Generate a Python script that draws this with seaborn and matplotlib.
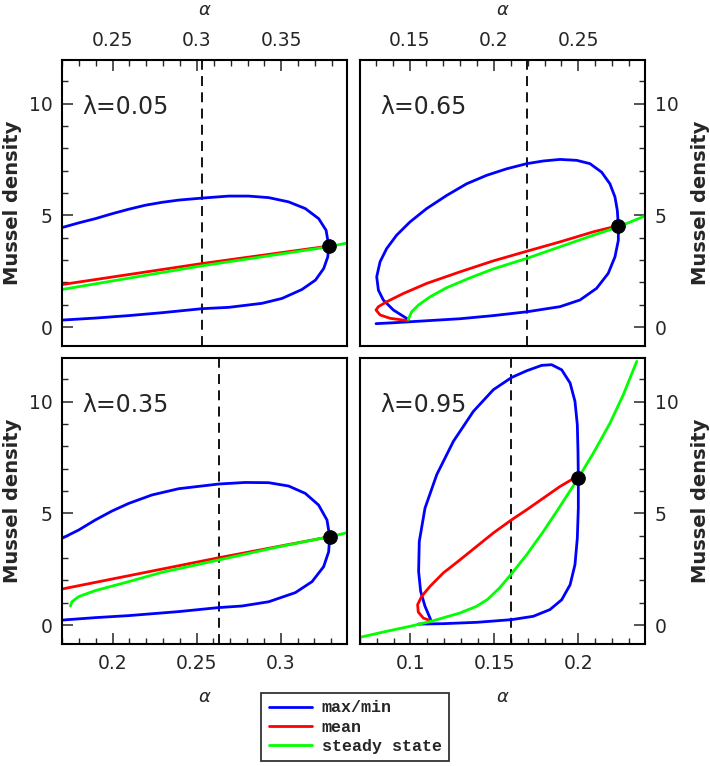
import matplotlib
matplotlib.use('Agg')
import numpy as np
import matplotlib.pyplot as plt
import seaborn as sns
from matplotlib.ticker import FixedLocator, FixedFormatter, MultipleLocator
from matplotlib.lines import Line2D

sns.set_style('ticks')
plt.rcParams['font.family'] = ['DejaVu Sans']

BLUE, RED, GREEN = '#0000ff', '#ff0000', '#00ff00'

# ---- panel lambda = 0.05 (top left) ----
a_lam = 'λ=0.05'
a_blue_x = [0.2200, 0.2299, 0.2398, 0.2497, 0.2595, 0.2694, 0.2793, 0.2892, 0.3030, 0.3189,
            0.3307, 0.3426, 0.3544, 0.3643, 0.3722, 0.3766, 0.3782, 0.3776, 0.3752, 0.3703,
            0.3623, 0.3505, 0.3386, 0.3189, 0.3030, 0.2793, 0.2595, 0.2398, 0.2200]
a_blue_y = [4.45, 4.66, 4.85, 5.07, 5.27, 5.45, 5.58, 5.68, 5.77, 5.86,
            5.86, 5.79, 5.60, 5.30, 4.85, 4.33, 3.62, 3.14, 2.62, 2.10,
            1.68, 1.28, 1.06, 0.88, 0.82, 0.64, 0.51, 0.40, 0.31]
a_red_x = [0.220, 0.3030, 0.3782]
a_red_y = [1.90, 2.84, 3.62]
a_green_x = [0.220, 0.3030, 0.3782, 0.389]
a_green_y = [1.68, 2.74, 3.59, 3.76]
a_dot = (0.3782, 3.62)
a_dash = 0.3030
a_xlim = (0.220, 0.389)
a_ticks = [0.25, 0.30, 0.35]
a_labels = ['0.25', '0.3', '0.35']

# ---- panel lambda = 0.65 (top right) ----
b_lam = 'λ=0.65'
b_blue1_x = [0.2737, 0.2731, 0.2717, 0.2687, 0.2638, 0.2569, 0.2490, 0.2391, 0.2292, 0.2194,
             0.2075, 0.1957, 0.1838, 0.1720, 0.1601, 0.1502, 0.1423, 0.1364, 0.1325, 0.1305,
             0.1315, 0.1344, 0.1404, 0.1492]
b_blue1_y = [4.52, 5.22, 5.82, 6.41, 6.93, 7.31, 7.46, 7.50, 7.43, 7.31,
             7.08, 6.79, 6.41, 5.89, 5.30, 4.70, 4.11, 3.51, 2.92, 2.25,
             1.65, 1.21, 0.76, 0.34]
b_blue2_x = [0.2737, 0.2737, 0.2717, 0.2677, 0.2608, 0.2510, 0.2391, 0.2194, 0.1996, 0.1799,
             0.1601, 0.1404, 0.1301]
b_blue2_y = [4.52, 3.88, 3.14, 2.40, 1.73, 1.21, 0.91, 0.68, 0.51, 0.37,
             0.28, 0.19, 0.15]
b_red_x = [0.2737, 0.2707, 0.2589, 0.2391, 0.2194, 0.1996, 0.1799, 0.1601, 0.1463, 0.1364,
           0.1315, 0.1301, 0.1325, 0.1384, 0.1492]
b_red_y = [4.52, 4.48, 4.26, 3.81, 3.39, 2.96, 2.47, 1.95, 1.50, 1.13,
           0.91, 0.76, 0.54, 0.39, 0.28]
b_green_x = [0.1492, 0.1512, 0.1552, 0.1621, 0.1720, 0.1858, 0.1996, 0.2194, 0.2391, 0.2589,
             0.2737, 0.2895]
b_green_y = [0.34, 0.68, 0.98, 1.35, 1.76, 2.20, 2.60, 3.07, 3.59, 4.11,
             4.48, 4.97]
b_dot = (0.2737, 4.52)
b_dash = 0.2194
b_xlim = (0.1206, 0.2895)
b_ticks = [0.15, 0.20, 0.25]
b_labels = ['0.15', '0.2', '0.25']

# ---- panel lambda = 0.35 (bottom left) ----
c_lam = 'λ=0.35'
c_blue_x = [0.1699, 0.1798, 0.1897, 0.1996, 0.2095, 0.2234, 0.2393, 0.2631, 0.2789, 0.2928,
            0.3047, 0.3146, 0.3225, 0.3275, 0.3291, 0.3285, 0.3255, 0.3186, 0.3087, 0.2928,
            0.2769, 0.2631, 0.2393, 0.2095, 0.1897, 0.1699]
c_blue_y = [3.88, 4.25, 4.70, 5.10, 5.44, 5.82, 6.10, 6.31, 6.38, 6.37,
            6.22, 5.89, 5.37, 4.70, 3.95, 3.28, 2.61, 1.94, 1.45, 1.04,
            0.85, 0.78, 0.60, 0.42, 0.33, 0.22]
c_red_x = [0.1699, 0.2631, 0.3291]
c_red_y = [1.61, 3.01, 3.95]
c_green_x = [0.1749, 0.1758, 0.1798, 0.1897, 0.2095, 0.2294, 0.2631, 0.2987, 0.3291, 0.3394]
c_green_y = [0.85, 1.04, 1.27, 1.54, 1.94, 2.36, 2.91, 3.50, 3.95, 4.13]
c_dot = (0.3291, 3.95)
c_dash = 0.2631
c_xlim = (0.1699, 0.3394)
c_ticks = [0.20, 0.25, 0.30]
c_labels = ['0.2', '0.25', '0.3']

# ---- panel lambda = 0.95 (bottom right) ----
d_lam = 'λ=0.95'
d_blue_x = [0.1047, 0.1196, 0.1395, 0.1603, 0.1732, 0.1831, 0.1901, 0.1951, 0.1980, 0.1994,
            0.2000, 0.2000, 0.1998, 0.1994, 0.1980, 0.1951, 0.1901, 0.1841, 0.1782, 0.1693,
            0.1603, 0.1494, 0.1375, 0.1256, 0.1157, 0.1087, 0.1053, 0.1049, 0.1061, 0.1087,
            0.1121]
d_blue_y = [0.04, 0.06, 0.12, 0.24, 0.39, 0.69, 1.13, 1.80, 2.70, 3.89,
            5.23, 6.58, 7.77, 8.96, 10.01, 10.83, 11.42, 11.65, 11.62, 11.38,
            11.08, 10.53, 9.56, 8.22, 6.73, 5.23, 3.74, 2.40, 1.51, 0.84,
            0.24]
d_red_x = [0.2000, 0.1970, 0.1891, 0.1792, 0.1693, 0.1603, 0.1494, 0.1395, 0.1296, 0.1196,
           0.1117, 0.1067, 0.1043, 0.1047, 0.1077, 0.1121]
d_red_y = [6.58, 6.55, 6.20, 5.68, 5.16, 4.71, 4.12, 3.52, 2.92, 2.33,
           1.73, 1.28, 0.91, 0.58, 0.31, 0.19]
d_green_x = [0.0700, 0.0859, 0.0998, 0.1121, 0.1296, 0.1395, 0.1460, 0.1530, 0.1603, 0.1693,
             0.1792, 0.1891, 0.2000, 0.2090, 0.2189, 0.2268, 0.2348]
d_green_y = [-0.55, -0.28, -0.06, 0.16, 0.54, 0.84, 1.15, 1.65, 2.30, 3.15,
             4.19, 5.31, 6.58, 7.70, 9.04, 10.31, 11.80]
d_dot = (0.2000, 6.58)
d_dash = 0.1600
d_xlim = (0.070, 0.2397)
d_ticks = [0.10, 0.15, 0.20]
d_labels = ['0.1', '0.15', '0.2']

y_ticks = [0, 5, 10]
y_labels = ['0', '5', '10']
ylim = (-0.85, 11.95)

W, H = 710, 766
fig = plt.figure(figsize=(W / 100, H / 100), dpi=100)


def px_axes(l, t, r, b):
    return fig.add_axes([l / W, 1 - b / H, (r - l) / W, (b - t) / H])


def draw_panel(ax, blues, red, green, dot, dash, xlim, ticks, labels, lam, top, right):
    for bx, by in blues:
        sns.lineplot(x=bx, y=by, sort=False, estimator=None, color=BLUE, lw=2, ax=ax)
    sns.lineplot(x=red[0], y=red[1], sort=False, estimator=None, color=RED, lw=2, ax=ax)
    sns.lineplot(x=green[0], y=green[1], sort=False, estimator=None, color=GREEN, lw=2, ax=ax)
    ax.axvline(dash, color='black', lw=1.3, ls=(0, (5.5, 3.5)), zorder=1)
    sns.scatterplot(x=[dot[0]], y=[dot[1]], color='black', s=95, edgecolor='black',
                    zorder=5, ax=ax)
    ax.set_xlim(*xlim)
    ax.set_ylim(*ylim)
    ax.xaxis.set_major_locator(FixedLocator(ticks))
    ax.xaxis.set_major_formatter(FixedFormatter(labels))
    ax.xaxis.set_minor_locator(MultipleLocator(0.01))
    ax.yaxis.set_major_locator(FixedLocator(y_ticks))
    ax.yaxis.set_major_formatter(FixedFormatter(y_labels))
    ax.yaxis.set_minor_locator(MultipleLocator(1))
    if top:
        ax.xaxis.tick_top()
        ax.xaxis.set_label_position('top')
    else:
        ax.xaxis.tick_bottom()
    if right:
        ax.yaxis.tick_right()
        ax.yaxis.set_label_position('right')
    else:
        ax.yaxis.tick_left()
    ax.tick_params(which='major', direction='in', length=8, width=1.1, labelsize=13.5, pad=7)
    ax.tick_params(which='minor', direction='in', length=4.5, width=1.0)
    for s in ax.spines.values():
        s.set_linewidth(1.5)
        s.set_color('black')
    ax.set_xlabel('α', fontsize=13, fontstyle='italic', labelpad=12 if top else 11)
    ax.set_ylabel('Mussel density', fontsize=14, fontweight='bold',
                  labelpad=9 if right else 5)
    ax.text(0.07, 0.835, lam, transform=ax.transAxes, fontsize=17, va='center', ha='left')


ax_a = px_axes(62, 60, 347, 346)
draw_panel(ax_a, [(a_blue_x, a_blue_y)], (a_red_x, a_red_y), (a_green_x, a_green_y),
           a_dot, a_dash, a_xlim, a_ticks, a_labels, a_lam, top=True, right=False)
ax_b = px_axes(360, 60, 645, 346)
draw_panel(ax_b, [(b_blue1_x, b_blue1_y), (b_blue2_x, b_blue2_y)], (b_red_x, b_red_y),
           (b_green_x, b_green_y), b_dot, b_dash, b_xlim, b_ticks, b_labels, b_lam,
           top=True, right=True)
ax_c = px_axes(62, 358, 347, 644)
draw_panel(ax_c, [(c_blue_x, c_blue_y)], (c_red_x, c_red_y), (c_green_x, c_green_y),
           c_dot, c_dash, c_xlim, c_ticks, c_labels, c_lam, top=False, right=False)
ax_d = px_axes(360, 358, 645, 644)
draw_panel(ax_d, [(d_blue_x, d_blue_y)], (d_red_x, d_red_y), (d_green_x, d_green_y),
           d_dot, d_dash, d_xlim, d_ticks, d_labels, d_lam, top=False, right=True)

handles = [Line2D([], [], color=BLUE, lw=2), Line2D([], [], color=RED, lw=2),
           Line2D([], [], color=GREEN, lw=2)]
leg = fig.legend(handles, ['max/min', 'mean', 'steady state'],
                 loc='upper left', bbox_to_anchor=(261 / W, 1 - 693 / H),
                 frameon=True, fancybox=False, borderaxespad=0, handlelength=2.6,
                 handletextpad=0.6, labelspacing=0.25, borderpad=0.45,
                 prop={'family': 'Liberation Mono', 'weight': 'bold', 'size': 12})
leg.get_frame().set_edgecolor('black')
leg.get_frame().set_linewidth(1.3)

fig.savefig('out.png', dpi=100)
